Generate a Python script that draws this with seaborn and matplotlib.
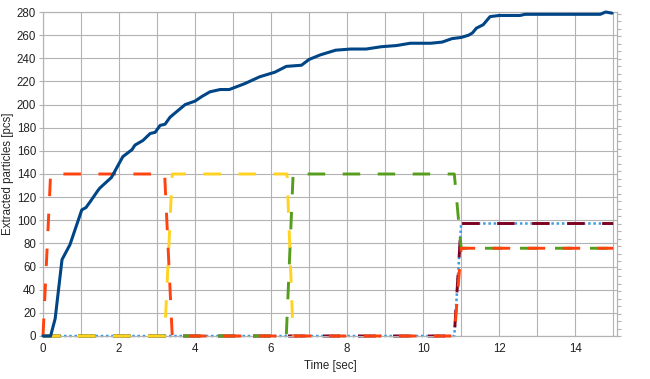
import numpy as np
import pandas as pd
import matplotlib
matplotlib.use("Agg")
import matplotlib.pyplot as plt
from matplotlib.ticker import MultipleLocator
import seaborn as sns

# extracted particles (left axis)
t_particles = [0, 0.2, 0.32, 0.5, 0.71, 1.02, 1.13, 1.24, 1.45, 1.5, 1.8, 1.95, 2.1,
               2.34, 2.42, 2.63, 2.82, 2.95, 3.08, 3.21, 3.34, 3.52, 3.74, 4.0, 4.18,
               4.39, 4.66, 4.9, 5.3, 5.7, 6.1, 6.4, 6.8, 7.0, 7.3, 7.7, 8.1, 8.5, 8.9,
               9.3, 9.66, 10.2, 10.5, 10.76, 11.0, 11.2, 11.3, 11.4, 11.58, 11.76, 12.0,
               12.55, 12.68, 14.66, 14.8, 14.97]
particles = [0, 0, 15, 66, 79, 109, 111, 116, 126, 128, 137, 146, 155,
             161, 165, 169, 175, 176, 182, 183, 189, 194, 200, 203, 207,
             211, 213, 213, 218, 224, 228, 233, 234, 239, 243, 247, 248, 248, 250,
             251, 253, 253, 254, 257, 258, 260, 262, 266, 269, 276, 277,
             277, 278, 278, 280, 279]

# volume flow rates (right axis)
t_orange = [0, 0.2, 3.2, 3.4, 10.82, 11.0, 15.0]
q_orange = [0, 21.6, 21.6, 0, 0, 11.7, 11.7]
t_yellow = [0, 3.2, 3.4, 6.42, 6.58]
q_yellow = [0, 0, 21.6, 21.6, 0]
t_green = [0, 6.4, 6.58, 10.82, 11.0, 15.0]
q_green = [0, 0, 21.6, 21.6, 11.7, 11.7]
t_maroon = [0, 10.82, 11.0, 15.0]
q_maroon = [0, 0, 15.0, 15.0]
t_lightblue = [0, 10.82, 11.0, 15.0]
q_lightblue = [0, 0, 15.0, 15.0]

sns.set_style("white")
plt.rcParams["font.family"] = ["Liberation Sans", "DejaVu Sans"]
plt.rcParams["font.size"] = 8.3

fig = plt.figure(figsize=(6.5, 3.79), dpi=100)
rect = [43 / 650, 1 - 336 / 379, (617 - 43) / 650, (336 - 12) / 379]
ax = fig.add_axes(rect)
ax2 = ax.twinx()

grid_c = "#b3b3b3"
ax.set_xlim(0, 15.1)
ax.set_ylim(0, 280)
ax.xaxis.set_major_locator(MultipleLocator(2))
ax.xaxis.set_minor_locator(MultipleLocator(1))
ax.yaxis.set_major_locator(MultipleLocator(20))
ax.grid(True, which="both", color=grid_c, linewidth=0.8)
ax.set_axisbelow(True)
ax.tick_params(axis="both", which="both", length=3, color=grid_c, labelcolor="#222222", pad=2)
ax.tick_params(axis="x", which="minor", length=0)
for sp in list(ax.spines.values()) + list(ax2.spines.values()):
    sp.set_color(grid_c)
    sp.set_linewidth(0.8)

ax2.set_ylim(0, 43.2)
ax2.yaxis.set_major_locator(MultipleLocator(1))
ax2.tick_params(axis="y", length=3, color=grid_c, labelright=False)

dash = (0, (6, 6))
lw = 2.1
flows = [
    (t_lightblue, q_lightblue, "#3d9be0", 1.8, (0, (1, 1.1))),
    (t_maroon, q_maroon, "#7e0021", lw, dash),
    (t_green, q_green, "#579d1c", lw, dash),
    (t_yellow, q_yellow, "#ffd320", lw, dash),
    (t_orange, q_orange, "#ff420e", lw, dash),
]
for z, (t, q, c, w, ls) in enumerate(flows):
    sns.lineplot(x=t, y=q, ax=ax2, sort=False, estimator=None,
                 color=c, linewidth=w, linestyle=ls, zorder=z + 1, clip_on=False)

# particles line on a transparent overlay sharing the left scale
ax3 = fig.add_axes(rect, sharex=ax, sharey=ax)
ax3.set_zorder(ax2.get_zorder() + 1)
ax3.patch.set_visible(False)
ax3.axis("off")
sns.lineplot(x=t_particles, y=particles, ax=ax3, sort=False, estimator=None,
             color="#004586", linewidth=2.2, clip_on=False)

ax.set_xlabel("Time [sec]", labelpad=4)
ax.set_ylabel("Extracted particles [pcs]", labelpad=2)
ax2.set_ylabel("Volume flow rate [L/min]", labelpad=10)

fig.savefig("out.png", dpi=100)
